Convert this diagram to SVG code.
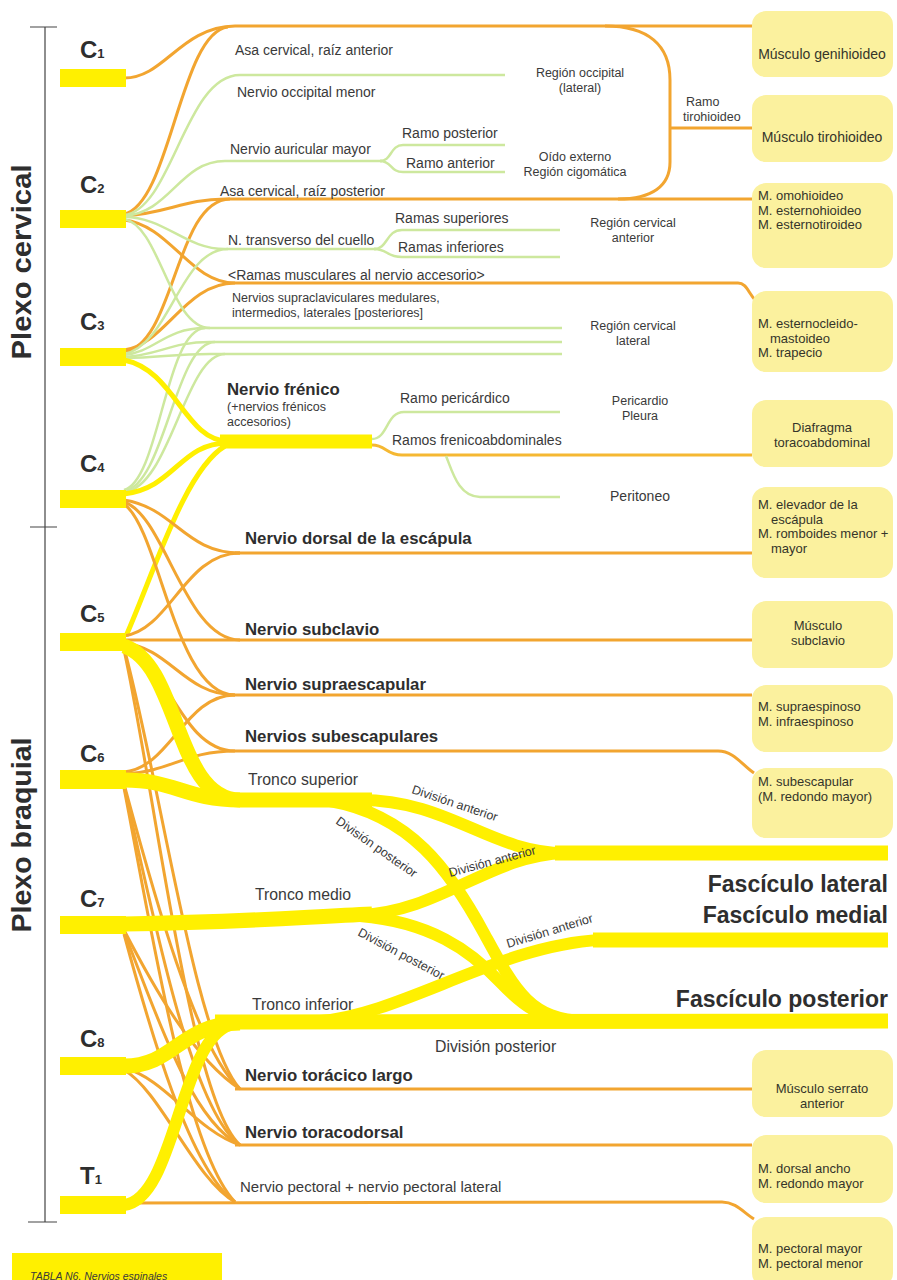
<svg xmlns="http://www.w3.org/2000/svg" width="897" height="1280" viewBox="0 0 897 1280">
<style>
text{font-family:'Liberation Sans',Arial,sans-serif;fill:#3a3a3a}
.s{font-size:14px}
.m{font-size:12.5px}
.b{font-size:16.8px;font-weight:bold;fill:#2e2e2e}
.t{font-size:15.8px}
.bx{font-size:13px;fill:#35352a}
.bx1{font-size:14px;fill:#35352a}
.c{text-anchor:middle}
.f{font-size:23px;font-weight:bold;text-anchor:end;fill:#2e2e2e}
.cl{font-size:24px;font-weight:bold;fill:#2e2e2e}
.sub{font-size:13px}
.pl{font-size:27px;font-weight:bold;text-anchor:middle;fill:#2e2e2e}
.o{fill:none;stroke:#f2a530;stroke-width:3}
.g{fill:none;stroke:#cde89e;stroke-width:2.5}
.ym{fill:none;stroke:#fff000;stroke-width:5}
.y{fill:none;stroke:#fff000;stroke-width:15}
.y2{fill:none;stroke:#fff000;stroke-width:12}
.fa{fill:none;stroke:#f5b832;stroke-width:3}
.root{fill:#fff000}
.box{fill:#fbf19e}
.br{stroke:#444;stroke-width:1.2;fill:none}
</style>
<g id="bracket">
<path class="br" d="M45,27 L45,1222 M30,27 L57,27 M30,527 L57,527 M28,1222 L57,1222"/>
<text class="pl" transform="translate(31,262) rotate(-90)" textLength="195" lengthAdjust="spacingAndGlyphs">Plexo cervical</text>
<text class="pl" transform="translate(31,835) rotate(-90)" textLength="195" lengthAdjust="spacingAndGlyphs">Plexo braquial</text>
</g>
<g id="connectors">
<path class="o" d="M124,78 C165,78 180,27 235,26 L752,26"/>
<path class="o" d="M124,214 C170,205 180,32 228,27"/>
<path class="o" d="M605,26 C648,26 670,45 670,80 L670,162 C670,186 652,199 618,199"/>
<path class="o" d="M670,128 L752,128"/>
<path class="o" d="M124,216 C165,214 185,199 225,199 L752,199"/>
<path class="o" d="M124,352 C175,345 175,200 230,199"/>
<path class="o" d="M124,220 C170,225 190,283 235,283 L738,283 C746,283 748,292 755,300"/>
<path class="o" d="M124,350 C165,345 185,283 235,283"/>
<path class="g" d="M124,215 C172,210 185,75 240,75 L505,75"/>
<path class="g" d="M124,216 C170,213 180,161 225,161 L382,161"/>
<path class="g" d="M380,161 C392,161 390,145 403,145 L505,145"/>
<path class="g" d="M380,161 C392,161 390,172 403,172 L505,172"/>
<path class="g" d="M124,217 C165,217 185,249 225,249 L376,249"/>
<path class="g" d="M124,354 C170,345 180,249 228,249"/>
<path class="g" d="M374,249 C388,249 386,230 402,230 L560,230"/>
<path class="g" d="M374,249 C388,249 386,257 402,257 L560,257"/>
<path class="g" d="M124,355 C155,352 165,328 205,328 L562,328"/>
<path class="g" d="M124,357 C160,355 170,342 210,342 L562,342"/>
<path class="g" d="M124,358 C160,358 170,354 210,354 L562,354"/>
<path class="g" d="M124,219 C160,225 170,328 210,328"/>
<path class="g" d="M124,491 C165,485 175,342 215,342"/>
<path class="g" d="M124,492 C170,488 185,354 225,354"/>
<path class="g" d="M124,490 C160,480 165,330 205,328"/>
<path class="ym" d="M124,360 C175,370 185,441 228,441"/>
<path class="ym" d="M124,494 C175,488 180,443 228,443"/>
<path class="ym" d="M126,636 C155,570 185,470 225,446"/>
<path class="g" d="M372,439 C388,439 386,412 404,412 L560,412"/>
<path class="fa" d="M372,445 C386,445 386,455 402,455 L752,455"/>
<path class="g" d="M446,456 C452,470 458,497 480,497 L560,497"/>
<path d="M220,441.5 L372,441.5" fill="none" stroke="#fff000" stroke-width="14"/>
<path class="o" d="M235,553 L752,553"/>
<path class="o" d="M124,500 C175,508 185,553 240,553"/>
<path class="o" d="M124,636 C170,630 185,553 240,553"/>
<path class="o" d="M124,640 L752,640"/>
<path class="o" d="M124,502 C165,515 185,640 240,640"/>
<path class="o" d="M235,695 L752,695"/>
<path class="o" d="M124,504 C160,530 175,695 235,695"/>
<path class="o" d="M124,643 C170,648 185,695 235,695"/>
<path class="o" d="M124,772 C170,768 185,695 235,695"/>
<path class="o" d="M235,751 L718,751 C734,751 742,765 754,773"/>
<path class="o" d="M124,645 C165,655 180,751 235,751"/>
<path class="o" d="M124,774 C170,772 185,751 235,751"/>
<path class="o" d="M235,1089 L752,1089"/>
<path class="o" d="M235,1145 L752,1145"/>
<path class="o" d="M124,1203 L722,1202 C736,1202 744,1213 754,1219"/>
<path class="o" d="M124,648 C160,780 195,1040 240,1089"/>
<path class="o" d="M124,650 C155,790 190,1100 240,1145"/>
<path class="o" d="M124,784 C150,880 195,1050 240,1089"/>
<path class="o" d="M124,786 C150,900 190,1110 240,1145"/>
<path class="o" d="M124,788 C150,920 185,1150 235,1202"/>
<path class="o" d="M124,930 C155,990 195,1060 240,1089"/>
<path class="o" d="M124,932 C155,1010 190,1120 240,1145"/>
<path class="o" d="M124,934 C150,1030 190,1170 235,1202"/>
<path class="o" d="M124,1068 C165,1078 195,1130 240,1145"/>
<path class="o" d="M124,1070 C160,1090 195,1180 235,1202"/>
<path class="y" d="M124,646 C180,665 175,800 240,800"/>
<path class="y" d="M124,780 C175,780 185,800 240,800 L372,800"/>
<path class="y2" d="M360,800 C450,800 490,853 565,853"/>
<path class="y2" d="M330,801 C410,815 450,870 485,935 C515,990 530,1020 585,1021"/>
<path class="y" d="M124,924 C250,922 300,917 372,914"/>
<path class="y2" d="M360,915 C440,912 490,855 565,853"/>
<path class="y2" d="M360,916 C430,922 470,950 500,982 C522,1005 540,1020 580,1021"/>
<path class="y" d="M124,1066 C175,1066 180,1024 240,1023"/>
<path class="y2" d="M124,1205 C175,1200 180,1040 230,1025"/>
<path class="y" d="M215,1022 L888,1021"/>
<path class="y2" d="M320,1021 C400,1015 500,945 600,940"/>
<path class="y" d="M555,853 L888,853"/>
<path class="y" d="M593,940 L888,940"/>
</g>
<g id="roots">
<g id="C1"><rect class="root" x="60" y="69" width="66" height="18"/><text class="cl" x="80" y="58">C<tspan class="sub">1</tspan></text></g>
<g id="C2"><rect class="root" x="60" y="210" width="66" height="18"/><text class="cl" x="80" y="193">C<tspan class="sub">2</tspan></text></g>
<g id="C3"><rect class="root" x="60" y="348" width="66" height="18"/><text class="cl" x="80" y="330">C<tspan class="sub">3</tspan></text></g>
<g id="C4"><rect class="root" x="60" y="490" width="66" height="18"/><text class="cl" x="80" y="472">C<tspan class="sub">4</tspan></text></g>
<g id="C5"><rect class="root" x="60" y="633" width="66" height="18"/><text class="cl" x="80" y="622">C<tspan class="sub">5</tspan></text></g>
<g id="C6"><rect class="root" x="60" y="770" width="66" height="19"/><text class="cl" x="80" y="762">C<tspan class="sub">6</tspan></text></g>
<g id="C7"><rect class="root" x="60" y="916" width="66" height="18"/><text class="cl" x="80" y="907">C<tspan class="sub">7</tspan></text></g>
<g id="C8"><rect class="root" x="60" y="1057" width="66" height="18"/><text class="cl" x="80" y="1047">C<tspan class="sub">8</tspan></text></g>
<g id="T1"><rect class="root" x="60" y="1196" width="66" height="18"/><text class="cl" x="80" y="1184">T<tspan class="sub">1</tspan></text></g>
</g>
<g id="labels">
<text class="s" x="235" y="55">Asa cervical, raíz anterior</text>
<text class="s" x="237" y="97">Nervio occipital menor</text>
<text class="s" x="230" y="154">Nervio auricular mayor</text>
<text class="s" x="402" y="138">Ramo posterior</text>
<text class="s" x="406" y="168">Ramo anterior</text>
<text class="s" x="220" y="196">Asa cervical, raíz posterior</text>
<text class="s" x="228" y="245">N. transverso del cuello</text>
<text class="s" x="395" y="223">Ramas superiores</text>
<text class="s" x="398" y="252">Ramas inferiores</text>
<text class="s" x="228" y="280">&lt;Ramas musculares al nervio accesorio&gt;</text>
<text class="m" x="232" y="302">Nervios supraclaviculares medulares,</text>
<text class="m" x="232" y="316.5">intermedios, laterales [posteriores]</text>
<text class="m c" x="580" y="77">Región occipital</text>
<text class="m c" x="580" y="91.5">(lateral)</text>
<text class="m c" x="575" y="161">Oído externo</text>
<text class="m c" x="575" y="175.5">Región cigomática</text>
<text class="m" x="686" y="106">Ramo</text>
<text class="m" x="683" y="120.5">tirohioideo</text>
<text class="m c" x="633" y="227">Región cervical</text>
<text class="m c" x="633" y="241.5">anterior</text>
<text class="m c" x="633" y="330">Región cervical</text>
<text class="m c" x="633" y="344.5">lateral</text>
<text class="b" x="227" y="395">Nervio frénico</text>
<text class="m" x="227" y="411">(+nervios frénicos</text>
<text class="m" x="227" y="425.5">accesorios)</text>
<text class="s" x="400" y="403">Ramo pericárdico</text>
<text class="s" x="392" y="445">Ramos frenicoabdominales</text>
<text class="m c" x="640" y="405">Pericardio</text>
<text class="m c" x="640" y="419.5">Pleura</text>
<text class="s c" x="640" y="501">Peritoneo</text>
<text class="b" x="245" y="544">Nervio dorsal de la escápula</text>
<text class="b" x="245" y="635">Nervio subclavio</text>
<text class="b" x="245" y="690">Nervio supraescapular</text>
<text class="b" x="245" y="742">Nervios subescapulares</text>
<text class="t" x="248" y="785">Tronco superior</text>
<text class="t" x="255" y="900">Tronco medio</text>
<text class="t" x="252" y="1010">Tronco inferior</text>
<text class="m" transform="translate(411,793) rotate(18.5)">División anterior</text>
<text class="m" transform="translate(335,823) rotate(35)">División posterior</text>
<text class="m" transform="translate(450,877) rotate(-15)">División anterior</text>
<text class="m" transform="translate(357,935) rotate(28)">División posterior</text>
<text class="m" transform="translate(508,948) rotate(-17)">División anterior</text>
<text class="t" x="435" y="1052">División posterior</text>
<text class="f" x="888" y="892">Fascículo lateral</text>
<text class="f" x="888" y="923">Fascículo medial</text>
<text class="f" x="888" y="1007">Fascículo posterior</text>
<text class="b" x="245" y="1081">Nervio torácico largo</text>
<text class="b" x="245" y="1138">Nervio toracodorsal</text>
<text class="s" x="240" y="1192" style="font-size:15px">Nervio pectoral + nervio pectoral lateral</text>
</g>
<g id="targets">
<g id="t-genihioideo"><rect class="box" x="752" y="11" width="141" height="66" rx="14"/><text class="bx1 c" x="822" y="59">Músculo genihioideo</text></g>
<g id="t-tirohioideo"><rect class="box" x="752" y="95" width="141" height="67" rx="14"/><text class="bx1 c" x="822" y="142">Músculo tirohioideo</text></g>
<g id="t-infrahioideos"><rect class="box" x="752" y="183" width="141" height="85" rx="14"/><text class="bx" x="758" y="200">M. omohioideo</text><text class="bx" x="758" y="214.5">M. esternohioideo</text><text class="bx" x="758" y="229">M. esternotiroideo</text></g>
<g id="t-esternocleido"><rect class="box" x="752" y="291" width="141" height="81" rx="14"/><text class="bx" x="758" y="328">M. esternocleido-</text><text class="bx" x="770" y="342.5">mastoideo</text><text class="bx" x="758" y="357">M. trapecio</text></g>
<g id="t-diafragma"><rect class="box" x="752" y="400" width="141" height="67" rx="14"/><text class="bx c" x="822" y="432">Diafragma</text><text class="bx c" x="822" y="446.5">toracoabdominal</text></g>
<g id="t-elevador"><rect class="box" x="752" y="487" width="141" height="91" rx="14"/><text class="bx" x="758" y="509">M. elevador de la</text><text class="bx" x="771" y="523.5">escápula</text><text class="bx" x="758" y="538">M. romboides menor +</text><text class="bx" x="771" y="552.5">mayor</text></g>
<g id="t-subclavio"><rect class="box" x="752" y="601" width="141" height="67" rx="14"/><text class="bx c" x="818" y="630">Músculo</text><text class="bx c" x="818" y="644.5">subclavio</text></g>
<g id="t-supraespinoso"><rect class="box" x="752" y="685" width="141" height="67" rx="14"/><text class="bx" x="758" y="711">M. supraespinoso</text><text class="bx" x="758" y="725.5">M. infraespinoso</text></g>
<g id="t-subescapular"><rect class="box" x="752" y="768" width="141" height="70" rx="14"/><text class="bx" x="758" y="786">M. subescapular</text><text class="bx" x="758" y="800.5">(M. redondo mayor)</text></g>
<g id="t-serrato"><rect class="box" x="752" y="1050" width="141" height="67" rx="14"/><text class="bx c" x="822" y="1093">Músculo serrato</text><text class="bx c" x="822" y="1107.5">anterior</text></g>
<g id="t-dorsal"><rect class="box" x="752" y="1135" width="141" height="68" rx="14"/><text class="bx" x="758" y="1173">M. dorsal ancho</text><text class="bx" x="758" y="1187.5">M. redondo mayor</text></g>
<g id="t-pectoral"><rect class="box" x="752" y="1217" width="141" height="70" rx="14"/><text class="bx" x="758" y="1253">M. pectoral mayor</text><text class="bx" x="758" y="1267.5">M. pectoral menor</text></g>
</g>
<g id="caption">
<rect x="12" y="1253" width="210" height="27" fill="#fff000"/>
<text x="30" y="1280" style="font-size:10.5px;font-style:italic">TABLA N6. Nervios espinales</text>
</g>
</svg>
